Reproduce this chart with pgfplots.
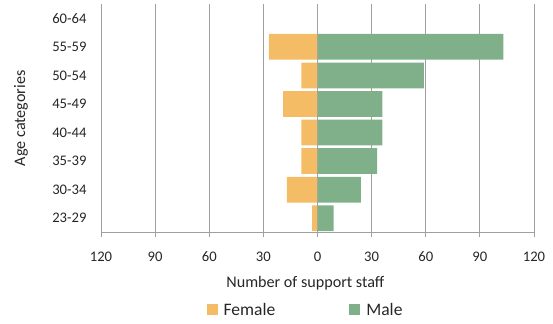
\documentclass[border=0pt]{standalone}
\usepackage{fontspec}
\setmainfont{Carlito}
\usepackage{pgfplots}
\pgfplotsset{compat=1.18}
\definecolor{female}{HTML}{F5BC66}
\definecolor{male}{HTML}{80B08A}
\definecolor{gridgray}{HTML}{A0A0A0}

\begin{document}
\begin{tikzpicture}
\begin{axis}[
  scale only axis,
  width=433bp, height=228.5bp,
  xmin=-120, xmax=120,
  ymin=-0.5, ymax=7.5,
  xtick={-120,-90,...,120},
  xticklabels={120,90,60,30,0,30,60,90,120},
  ytick={0,...,7},
  yticklabels={23-29,30-34,35-39,40-44,45-49,50-54,55-59,60-64},
  xmajorgrids,
  grid style={gridgray, line width=1pt},
  axis x line*=bottom, axis y line*=left,
  axis line style={gridgray, line width=1pt},
  tick align=outside,
  x tick style={gridgray, line width=1pt},
  major tick length=5bp,
  y tick style={draw=none},
  /pgf/number format/assume math mode=true,
  tick label style={font=\fontsize{14.7}{16}\selectfont, text=black!85},
  xticklabel style={yshift=-11bp},
  yticklabel style={xshift=-6bp},
  label style={font=\fontsize{16.2}{18}\selectfont, text=black!85},
  xlabel={Number of support staff},
  ylabel={Age categories},
  xlabel style={at={(axis description cs:0.472,-0.222)}, anchor=center},
  ylabel style={at={(axis description cs:-0.185,0.5)}, anchor=center},
  xbar, bar width=0.9, bar shift=0pt,
  legend columns=2,
  legend style={
    at={(axis description cs:0.4725,-0.342)}, anchor=center,
    draw=none, fill=none,
    font=\fontsize{17.6}{19}\selectfont,
    text=black!85,
    /tikz/every odd column/.append style={column sep=4bp},
    /tikz/every even column/.append style={column sep=72bp},
  },
  legend image code/.code={\fill[#1] (0bp,-4.5bp) rectangle (11bp,6.5bp);},
]
% Female counts are plotted to the left of zero
\addplot[draw=none, fill=female] coordinates {
  (-3,0) (-17,1) (-9,2) (-9,3) (-19,4) (-9,5) (-27,6) (0,7)};
\addlegendentry{Female}
% Male counts to the right
\addplot[draw=none, fill=male] coordinates {
  (9,0) (24,1) (33,2) (36,3) (36,4) (59,5) (103,6) (0,7)};
\addlegendentry{Male}
% category axis line at zero, over the bars
\draw[gridgray, line width=1pt, opacity=0.7] (axis cs:0,-0.5) -- (axis cs:0,7.5);
\end{axis}
\pgfresetboundingbox
\path[use as bounding box] ([xshift=-101bp,yshift=-91.5bp]current axis.south west) rectangle ([xshift=19bp,yshift=4bp]current axis.north east);
\end{tikzpicture}
\end{document}
